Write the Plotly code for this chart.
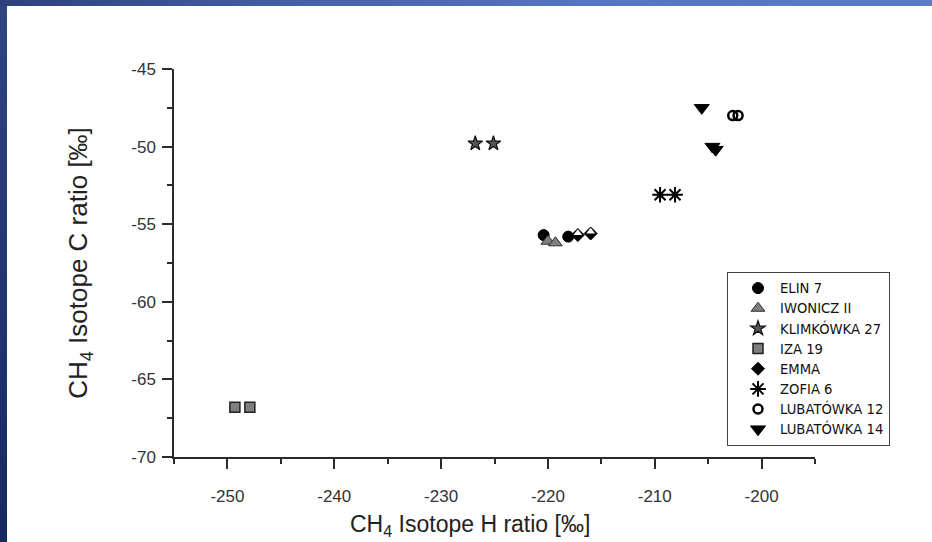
import base64
import plotly.graph_objects as go

# ---- data ----
elin7_x = [-220.4, -218.1]
elin7_y = [-55.7, -55.8]
iwonicz_x = [-220.0, -219.3]
iwonicz_y = [-56.1, -56.2]
klimkowka_x = [-226.8, -225.1]
klimkowka_y = [-49.8, -49.8]
iza19_x = [-249.3, -247.9]
iza19_y = [-66.8, -66.8]
emma_x = [-217.2, -216.0]
emma_y = [-55.7, -55.6]
zofia6_x = [-209.5, -208.1]
zofia6_y = [-53.1, -53.1]
lub12_x = [-202.7, -202.2]
lub12_y = [-48.0, -48.0]
lub14_x = [-205.6, -204.6, -204.3]
lub14_y = [-47.5, -50.0, -50.2]

x_ticks = [-250, -240, -230, -220, -210, -200]
x_ticktext = ["-250", "-240", "-230", "-220", "-210", "-200"]
y_ticks = [-45, -50, -55, -60, -65, -70]
y_ticktext = ["-45", "-50", "-55", "-60", "-65", "-70"]

x_title = "CH<sub>4</sub> Isotope H ratio [‰]"
y_title = "CH<sub>4</sub> Isotope C ratio [‰]"

W, H = 932, 542
ML, MR, MT, MB = 174, 117, 69, 85
PW, PH = W - ML - MR, H - MT - MB

FONT = "Liberation Sans, Arial, sans-serif"
AX = "#2b2b2b"

fig = go.Figure()

def add(name, x, y, symbol, size, color, lcolor="#000", lw=1, show=True, **mk):
    fig.add_trace(go.Scatter(
        x=x, y=y, mode="markers", name=name, showlegend=show,
        marker=dict(symbol=symbol, size=size, color=color,
                    line=dict(color=lcolor, width=lw), **mk)))

add("ELIN 7", elin7_x, elin7_y, "circle", 11, "#000", "#000", 1)
add("IWONICZ II", iwonicz_x, iwonicz_y, "triangle-up", 12, "#7f7f7f", "#303030", 1)
add("KLIMKÓWKA 27", klimkowka_x, klimkowka_y, "star", 11, "#555555", "#111", 1.2)
add("IZA 19", iza19_x, iza19_y, "square", 10, "#7f7f7f", "#222", 1.5)
add("EMMA", emma_x, emma_y, "diamond", 10, "#000", "#000", 1)
# white upper half of the EMMA diamonds
fig.add_trace(go.Scatter(
    x=emma_x, y=emma_y, mode="markers", showlegend=False, hoverinfo="skip",
    marker=dict(symbol="triangle-down", size=7.6, color="#fff", angle=180,
                standoff=1.9, line=dict(width=0))))
add("ZOFIA 6", zofia6_x, zofia6_y, "asterisk-open", 13, "#000", "#000", 2)
add("LUBATÓWKA 12", lub12_x, lub12_y, "circle-open", 9, "#000", "#000", 2.5)
add("LUBATÓWKA 14", lub14_x, lub14_y, "triangle-down", 13, "#000", "#000", 1)

axis_common = dict(showgrid=False, zeroline=False, showline=True,
                   linecolor=AX, linewidth=1.5, tickcolor=AX, tickwidth=1.5)

fig.update_layout(
    width=W, height=H,
    margin=dict(l=ML, r=MR, t=MT, b=MB),
    paper_bgcolor="white", plot_bgcolor="white",
    font=dict(family=FONT, color="#222"),
    xaxis=dict(range=[-255, -195], tickvals=x_ticks, ticktext=x_ticktext,
               ticks="outside", ticklen=10, ticklabelstandoff=13,
               minor=dict(dtick=5, tick0=-255, ticks="outside", ticklen=5,
                          tickcolor=AX, tickwidth=1.5),
               tickfont=dict(size=17, color="#333"),
               **axis_common),
    yaxis=dict(range=[-70, -45], tickvals=y_ticks, ticktext=y_ticktext,
               ticks="outside", ticklen=10, ticklabelstandoff=3,
               minor=dict(dtick=2.5, tick0=-70, ticks="outside", ticklen=5,
                          tickcolor=AX, tickwidth=1.5),
               tickfont=dict(size=17, color="#333"),
               title=dict(text=y_title, font=dict(size=26, color="#222"), standoff=36),
               **axis_common),
    xaxis2=dict(range=[-255, -195], overlaying="x", side="top", tickvals=x_ticks,
                ticks="inside", ticklen=10, showticklabels=False,
                minor=dict(dtick=5, tick0=-255, ticks="inside", ticklen=5,
                           tickcolor=AX, tickwidth=1.5),
                **axis_common),
    yaxis2=dict(range=[-70, -45], overlaying="y", side="right", tickvals=y_ticks,
                ticks="inside", ticklen=10, showticklabels=False,
                minor=dict(dtick=2.5, tick0=-70, ticks="inside", ticklen=5,
                           tickcolor=AX, tickwidth=1.5),
                **axis_common),
    legend=dict(x=(727 - ML) / PW, y=(H - MB - 272) / PH, xanchor="left", yanchor="top",
                bgcolor="white", bordercolor="#444", borderwidth=1,
                font=dict(size=13.2, family="DejaVu Sans, Liberation Sans, sans-serif",
                          color="#111"),
                tracegroupgap=0, indentation=8, itemwidth=34,
                entrywidthmode="pixels", entrywidth=130),
    showlegend=True,
)

# x-axis title (placed as in the reference, slightly left of centre)
fig.add_annotation(text=x_title, xref="paper", yref="paper",
                   x=(470 - ML) / PW, y=(H - MB - 525) / PH,
                   xanchor="center", yanchor="middle", showarrow=False,
                   font=dict(size=23, color="#222", family=FONT))

# decorative blue slide frame (left and top bands)
svg = f'''<svg xmlns="http://www.w3.org/2000/svg" width="{W}" height="{H}" viewBox="0 0 {W} {H}">
<defs>
<linearGradient id="t" x1="0" y1="0" x2="1" y2="0">
<stop offset="0" stop-color="#2c417c"/><stop offset="0.35" stop-color="#4763aa"/>
<stop offset="0.65" stop-color="#5677c0"/><stop offset="1" stop-color="#5a7cc4"/></linearGradient>
<linearGradient id="l" x1="0" y1="0" x2="0" y2="1">
<stop offset="0" stop-color="#2e4683"/><stop offset="1" stop-color="#15285f"/></linearGradient>
</defs>
<rect x="0" y="0" width="7" height="{H}" fill="url(#l)"/>
<rect x="0" y="0" width="{W}" height="6" fill="url(#t)"/>
</svg>'''
uri = "data:image/svg+xml;base64," + base64.b64encode(svg.encode()).decode()
fig.add_layout_image(dict(source=uri, xref="paper", yref="paper",
                          x=-ML / PW, y=1 + MT / PH, sizex=W / PW, sizey=H / PH,
                          xanchor="left", yanchor="top", sizing="stretch",
                          layer="above"))

fig.write_html("out.html",
               config={"displayModeBar": False},
               post_script="document.body.style.margin='0';"
                           "document.body.style.overflow='hidden';")
